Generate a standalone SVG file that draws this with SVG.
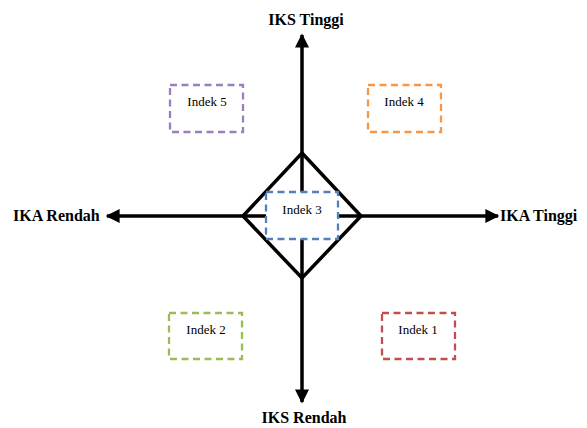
<svg xmlns="http://www.w3.org/2000/svg" width="587" height="428" viewBox="0 0 587 428">
<defs>
<marker id="ah" viewBox="0 0 10 10" refX="9" refY="5" markerWidth="4.2" markerHeight="4" orient="auto" markerUnits="strokeWidth">
<path d="M0,0 L10,5 L0,10 Z" fill="#000"/>
</marker>
</defs>
<style>
.ax{stroke:#000;stroke-width:3.5;fill:none}
.lbl{font-family:"Liberation Serif",serif;font-weight:bold;font-size:16px;fill:#000}
.box{fill:none;stroke-width:2.3;stroke-dasharray:7 4.5}
.bt{font-family:"Liberation Serif",serif;font-size:13px;fill:#000;text-anchor:middle}
</style>
<rect width="587" height="428" fill="#fff"/>
<g id="connectors">
<line class="ax" x1="302" y1="216" x2="302" y2="35" marker-end="url(#ah)"/>
<line class="ax" x1="302" y1="216" x2="302" y2="402" marker-end="url(#ah)"/>
<line class="ax" x1="302" y1="216" x2="107" y2="216" marker-end="url(#ah)"/>
<line class="ax" x1="302" y1="216" x2="498" y2="216" marker-end="url(#ah)"/>
<polygon class="ax" points="302,153 361,216 302,278 243,216" stroke-linejoin="miter"/>
</g>
<g id="iks-tinggi"><text class="lbl" x="306" y="25" text-anchor="middle">IKS Tinggi</text></g>
<g id="iks-rendah"><text class="lbl" x="304" y="423" text-anchor="middle">IKS Rendah</text></g>
<g id="ika-rendah"><text class="lbl" x="13" y="221">IKA Rendah</text></g>
<g id="ika-tinggi"><text class="lbl" x="500" y="221">IKA Tinggi</text></g>
<g id="indek5"><rect class="box" x="170" y="85" width="73" height="47" stroke="#9A7FBD"/><text class="bt" x="207" y="106">Indek 5</text></g>
<g id="indek4"><rect class="box" x="368" y="85" width="73" height="47" stroke="#F79646"/><text class="bt" x="404" y="106">Indek 4</text></g>
<g id="indek3"><rect class="box" x="266" y="192" width="72" height="47" style="fill:#fff" stroke="#4F81BD"/><text class="bt" x="302" y="214">Indek 3</text></g>
<g id="indek2"><rect class="box" x="169" y="313" width="73" height="46" stroke="#9BBB59"/><text class="bt" x="206" y="334">Indek 2</text></g>
<g id="indek1"><rect class="box" x="382" y="313" width="73" height="46" stroke="#C0504D"/><text class="bt" x="418" y="334">Indek 1</text></g>
</svg>
